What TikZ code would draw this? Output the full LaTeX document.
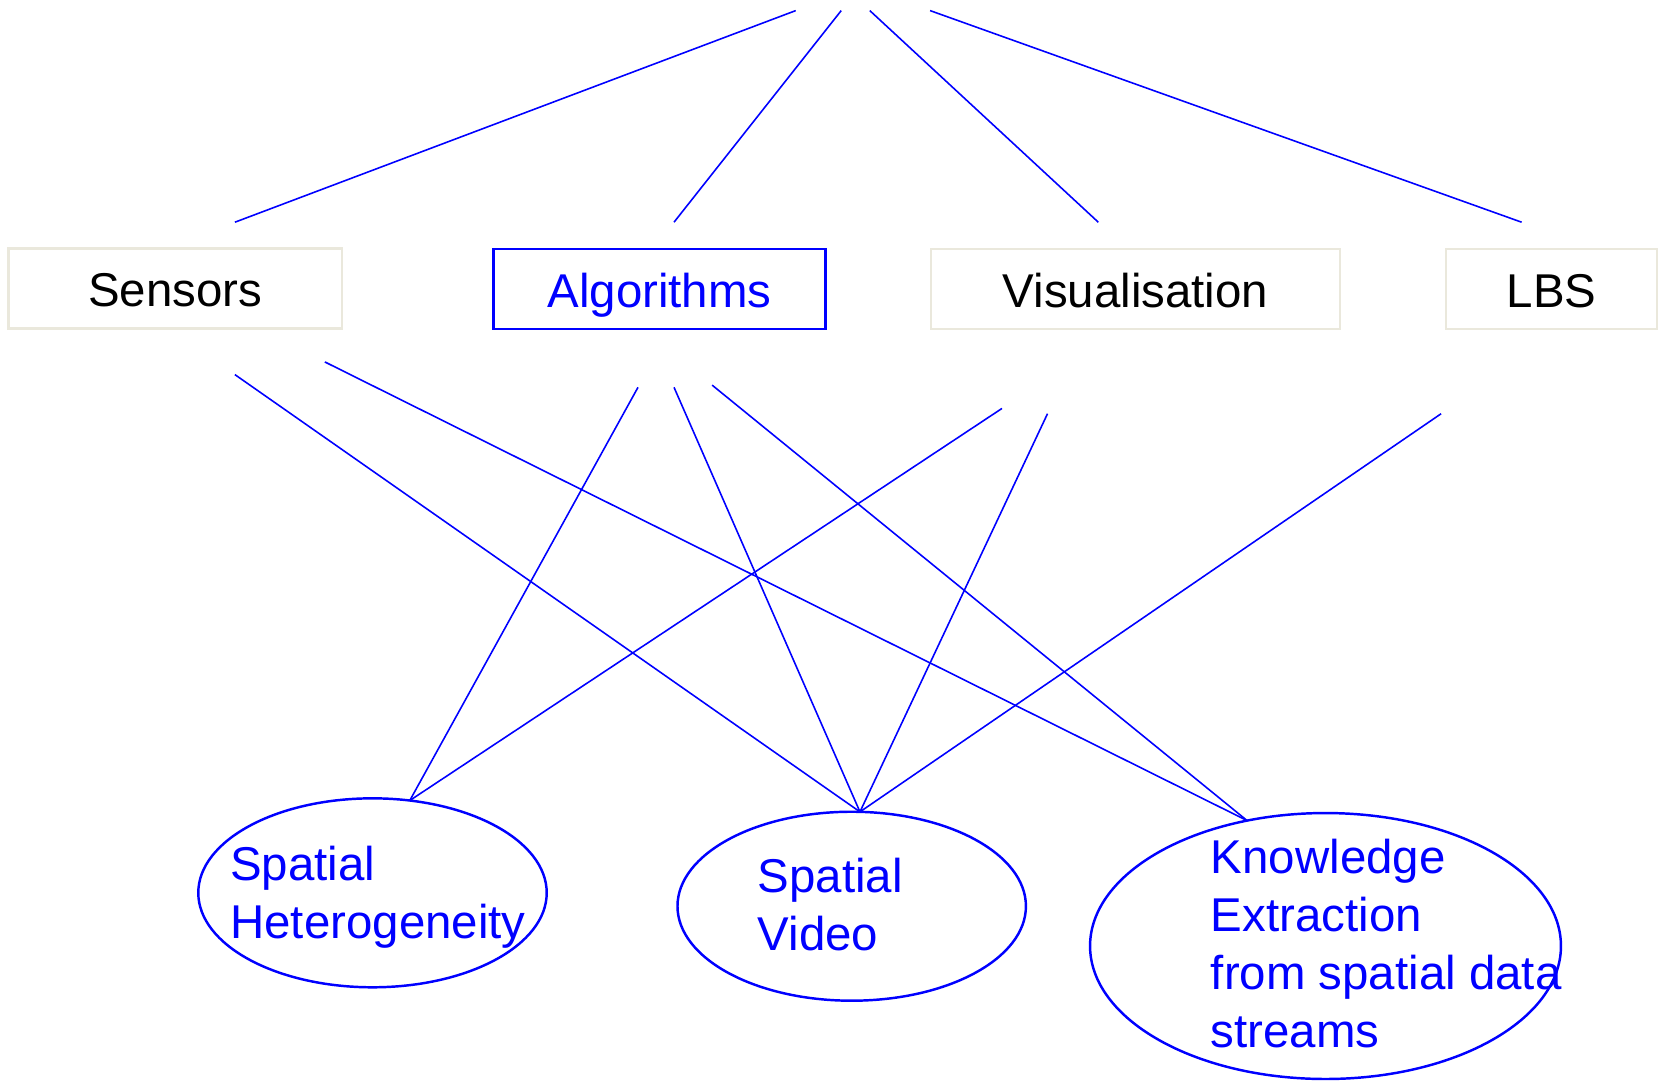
\documentclass[tikz,border=0pt]{standalone}
\usepackage{fontspec}
\setmainfont{Liberation Sans}
\usetikzlibrary{shapes.geometric}
\definecolor{linkblue}{RGB}{0,0,255}
\definecolor{paleframe}{RGB}{234,232,220}
\begin{document}
\begin{tikzpicture}[x=0.02cm,y=-0.02cm,
  every node/.style={font=\fontsize{27pt}{33pt}\selectfont},
  topicbox/.style={draw=paleframe,line width=1.3pt,rectangle,inner sep=0pt,outer sep=0pt,
    minimum height=1.6cm,text height=0.72cm,text depth=0pt,text=black},
  keybox/.style={topicbox,draw=linkblue,text=linkblue},
  theme/.style={draw=linkblue,line width=1.4pt,ellipse,inner sep=0pt,outer sep=0pt},
  themetext/.style={anchor=base west,inner sep=0pt,text=linkblue},
  link/.style={draw=linkblue,line width=0.9pt}]
  \useasboundingbox (0,0) rectangle (1659,1080);

  % top row of topics
  \node[topicbox,minimum width=6.67cm] (sensors) at (175.2,288.5) {Sensors};
  \node[keybox,minimum width=6.64cm] (algorithms) at (659.5,289) {Algorithms};
  \node[topicbox,minimum width=8.18cm] (visual) at (1135.5,289) {Visualisation};
  \node[topicbox,minimum width=4.22cm] (lbs) at (1551.5,289) {LBS};

  % research themes
  \node[theme,minimum width=6.97cm,minimum height=3.78cm] (het) at (372.5,892.8) {};
  \node[theme,minimum width=6.97cm,minimum height=3.78cm] (vid) at (851.7,906.2) {};
  \node[theme,minimum width=9.42cm,minimum height=5.32cm] (kno) at (1325.5,946) {};
  \node[themetext] (hettext) at (230,880.5)
    {\parbox[t]{9cm}{\raggedright Spatial\\Heterogeneity}};
  \node[themetext] (vidtext) at (757.5,892.5)
    {\parbox[t]{9cm}{\raggedright Spatial\\Video}};
  \node[themetext] (knotext) at (1210.5,873.3)
    {\parbox[t]{9cm}{\raggedright Knowledge\\Extraction\\from spatial data\\streams}};

  % fan of lines above the topics
  \coordinate (apexA) at (795.7,10.6);
  \coordinate (apexB) at (841.2,10.6);
  \coordinate (apexC) at (869.8,10.6);
  \coordinate (apexD) at (930.1,10.6);
  \coordinate (footA) at (234.9,222.2);
  \coordinate (footB) at (674,222.2);
  \coordinate (footC) at (1098.3,222.2);
  \coordinate (footD) at (1521.6,222.2);
  \draw[link] (apexA) -- (footA);
  \draw[link] (apexB) -- (footB);
  \draw[link] (apexC) -- (footC);
  \draw[link] (apexD) -- (footD);

  % starting points below the topics
  \coordinate (sensA) at (234.9,374.6);
  \coordinate (sensB) at (324.8,361.9);
  \coordinate (algA) at (638,387.3);
  \coordinate (algB) at (674,387.3);
  \coordinate (algC) at (712.1,385.1);
  \coordinate (visA) at (1002,408.4);
  \coordinate (visB) at (1047.5,413.7);
  \coordinate (lbsA) at (1441.1,413.7);

  % links from topics to themes
  \draw[link] (sensA) -- (vid.85);
  \draw[link] (sensB) -- (kno.122);
  \draw[link] (algA) -- (het.68);
  \draw[link] (algB) -- (vid.85);
  \draw[link] (algC) -- (kno.122);
  \draw[link] (visA) -- (het.68);
  \draw[link] (visB) -- (vid.85);
  \draw[link] (lbsA) -- (vid.85);
\end{tikzpicture}
\end{document}
